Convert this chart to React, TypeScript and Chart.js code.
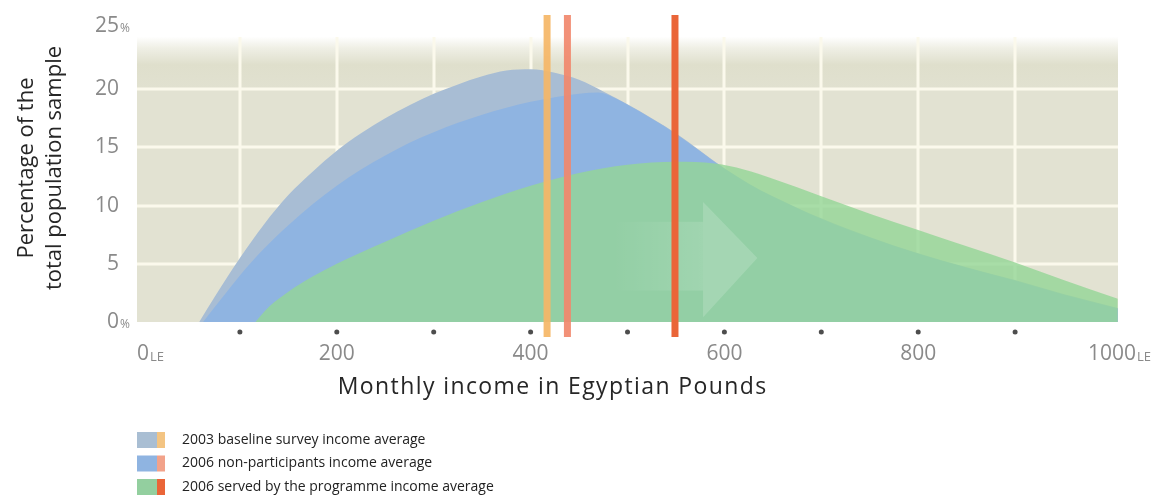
import React, { useEffect, useRef } from 'react';
import { Chart, registerables } from 'chart.js';

Chart.register(...registerables);

// ---- data ----
const seriesLabels = [
  '2003 baseline survey income average',
  '2006 non-participants income average',
  '2006 served by the programme income average',
];

const income2003 = [58, 75, 100, 125, 150, 175, 200, 225, 250, 275, 300, 325, 350, 375, 400, 425, 450, 475, 500, 525, 550, 575, 600, 625, 650, 700, 750, 800, 850, 900, 950, 1006];
const share2003 = [0, 2.3, 5.5, 8.4, 10.9, 12.9, 14.7, 16.2, 17.5, 18.6, 19.6, 20.4, 21.1, 21.6, 21.7, 21.4, 20.8, 19.8, 18.7, 17.5, 16.2, 14.7, 13.2, 11.9, 10.8, 8.9, 7.3, 5.9, 4.7, 3.6, 2.4, 1.2];

const income2006 = [62, 80, 100, 125, 150, 175, 200, 225, 250, 275, 300, 325, 350, 375, 400, 425, 450, 470, 490, 500, 525, 550, 575, 600, 625, 650, 700, 750, 800, 850, 900, 950, 1006];
const share2006 = [0, 1.9, 4.0, 6.3, 8.3, 10.1, 11.7, 13.1, 14.3, 15.4, 16.3, 17.1, 17.8, 18.4, 18.9, 19.3, 19.6, 19.7, 19.1, 18.65, 17.45, 16.15, 14.65, 13.15, 11.85, 10.75, 8.85, 7.25, 5.85, 4.65, 3.55, 2.35, 1.15];

const incomeServed = [116, 130, 150, 175, 200, 250, 300, 350, 400, 450, 500, 550, 590, 620, 650, 700, 750, 800, 850, 900, 950, 1006];
const shareServed = [0, 1.3, 2.6, 3.9, 5.0, 6.9, 8.7, 10.3, 11.7, 12.8, 13.5, 13.75, 13.6, 13.1, 12.3, 10.8, 9.3, 7.9, 6.5, 5.1, 3.6, 2.0];

const averageIncome = [417, 438, 549];

const yTickValues = [0, 5, 10, 15, 20, 25];
const yTickLabels = ['0', '5', '10', '15', '20', '25'];
const yTickSuffix = ['%', '', '', '', '', '%'];

const xTickValues = [0, 200, 400, 600, 800, 1000];
const xTickLabels = ['0', '200', '400', '600', '800', '1000'];
const xTickSuffix = ['LE', '', '', '', '', 'LE'];
const xDotValues = [100, 200, 300, 400, 500, 600, 700, 800, 900];
const gridX = [100, 200, 300, 400, 500, 600, 700, 800, 900];
const gridY = [5, 10, 15, 20];

const xTitle = 'Monthly income in Egyptian Pounds';
const yTitle = ['Percentage of the', 'total population sample'];

// ---- styles ----
const areaColors = ['#a8bdd4', '#8fb4e1', 'rgba(148,214,150,0.8)'];
const lineColors = ['rgba(245,182,102,0.92)', 'rgba(241,136,108,0.92)', '#ea6538'];
const legendAreaColors = ['#a9bed3', '#8fb4e1', '#93cf9f'];
const legendLineColors = ['#f3c482', '#f2a28a', '#ea6538'];

const FONT = '"Open Sans", "DejaVu Sans", sans-serif';

const toPoints = (xs: number[], ys: number[]) => xs.map((x, i) => ({ x, y: ys[i] }));

const decorPlugin = {
  id: 'decor',
  beforeDatasetsDraw(chart: any) {
    const { ctx, chartArea, scales } = chart;
    const { left, right, top, bottom } = chartArea;
    const x = scales.x;
    const y = scales.y;
    ctx.save();
    const y20 = y.getPixelForValue(20);
    ctx.fillStyle = '#e2e2d2';
    ctx.fillRect(left, y20, right - left, bottom - y20);
    const g = ctx.createLinearGradient(0, top, 0, y20);
    g.addColorStop(0, 'rgba(255,255,255,1)');
    g.addColorStop(0.18, 'rgba(255,255,255,1)');
    g.addColorStop(0.36, '#efefe5');
    g.addColorStop(0.62, '#dfdfcc');
    g.addColorStop(1, '#e1e1d0');
    ctx.fillStyle = g;
    ctx.fillRect(left, top, right - left, y20 - top);
    ctx.strokeStyle = '#fbf9ec';
    ctx.lineWidth = 3;
    gridY.forEach((v) => {
      const py = Math.round(y.getPixelForValue(v));
      ctx.beginPath();
      ctx.moveTo(left, py);
      ctx.lineTo(right, py);
      ctx.stroke();
    });
    gridX.forEach((v) => {
      const px = Math.round(x.getPixelForValue(v));
      ctx.beginPath();
      ctx.moveTo(px, top + 12);
      ctx.lineTo(px, bottom);
      ctx.stroke();
    });
    ctx.restore();
  },
  afterDatasetsDraw(chart: any) {
    const { ctx, chartArea, scales } = chart;
    const x = scales.x;
    const y = scales.y;
    ctx.save();
    const ax0 = x.getPixelForValue(485);
    const ax1 = x.getPixelForValue(578);
    const ax2 = x.getPixelForValue(634);
    const bTop = y.getPixelForValue(8.6);
    const bBot = y.getPixelForValue(2.7);
    const hTop = y.getPixelForValue(10.3);
    const hBot = y.getPixelForValue(0.4);
    const tipY = y.getPixelForValue(5.5);
    const ag = ctx.createLinearGradient(ax0, 0, ax1, 0);
    ag.addColorStop(0, 'rgba(255,255,255,0)');
    ag.addColorStop(1, 'rgba(255,255,255,0.12)');
    ctx.fillStyle = ag;
    ctx.fillRect(ax0, bTop, ax1 - ax0, bBot - bTop);
    ctx.fillStyle = 'rgba(255,255,255,0.16)';
    ctx.beginPath();
    ctx.moveTo(ax1, hTop);
    ctx.lineTo(ax2, tipY);
    ctx.lineTo(ax1, hBot);
    ctx.closePath();
    ctx.fill();
    averageIncome.forEach((v, i) => {
      const px = x.getPixelForValue(v);
      ctx.fillStyle = lineColors[i];
      ctx.fillRect(px - 3.5, chartArea.top - 10, 7, chartArea.bottom - chartArea.top + 25);
    });
    ctx.restore();
  },
  afterDraw(chart: any) {
    const { ctx, chartArea, scales } = chart;
    const x = scales.x;
    const y = scales.y;
    ctx.save();
    ctx.fillStyle = '#8a8a8a';
    ctx.textBaseline = 'middle';
    yTickValues.forEach((v, i) => {
      const py = y.getPixelForValue(v) - (i === yTickValues.length - 1 ? 5 : 0);
      const rx = chartArea.left - 18;
      ctx.font = `21px ${FONT}`;
      ctx.textAlign = 'right';
      ctx.fillText(yTickLabels[i], rx, py);
      if (yTickSuffix[i]) {
        ctx.font = `12px ${FONT}`;
        ctx.textAlign = 'left';
        ctx.fillText(yTickSuffix[i], rx + 1, py + 3);
      }
    });
    ctx.fillStyle = '#4d4d4d';
    xDotValues.forEach((v) => {
      const px = x.getPixelForValue(v);
      ctx.beginPath();
      ctx.arc(px, chartArea.bottom + 10, 2.5, 0, Math.PI * 2);
      ctx.fill();
    });
    ctx.fillStyle = '#8a8a8a';
    xTickValues.forEach((v, i) => {
      const px = x.getPixelForValue(v);
      ctx.font = `21px ${FONT}`;
      ctx.textAlign = 'center';
      const w = ctx.measureText(xTickLabels[i]).width;
      ctx.fillText(xTickLabels[i], px, chartArea.bottom + 32);
      if (xTickSuffix[i]) {
        ctx.font = `13px ${FONT}`;
        ctx.textAlign = 'left';
        ctx.fillText(xTickSuffix[i], px + w / 2 + 1, chartArea.bottom + 35);
      }
    });
    // x title
    ctx.fillStyle = '#262626';
    ctx.font = `23px ${FONT}`;
    ctx.textAlign = 'left';
    (ctx as any).letterSpacing = '1.4px';
    ctx.fillText(xTitle, x.getPixelForValue(201), chartArea.bottom + 65);
    (ctx as any).letterSpacing = '0px';
    // y title
    ctx.save();
    ctx.textAlign = 'center';
    ctx.translate(41, 168);
    ctx.rotate(-Math.PI / 2);
    ctx.font = `22px ${FONT}`;
    ctx.fillText(yTitle[0], 0, -14);
    ctx.fillText(yTitle[1], 0, 14);
    ctx.restore();
    // legend
    seriesLabels.forEach((label, i) => {
      const cy = chartArea.bottom + 118 + i * 23.5;
      ctx.fillStyle = legendAreaColors[i];
      ctx.fillRect(chartArea.left, cy - 8, 20, 16);
      ctx.fillStyle = legendLineColors[i];
      ctx.fillRect(chartArea.left + 20, cy - 8, 8, 16);
      ctx.fillStyle = '#222222';
      ctx.font = `14px ${FONT}`;
      ctx.textAlign = 'left';
      ctx.fillText(label, chartArea.left + 45, cy);
    });
    ctx.restore();
  },
};

export default function App() {
  const canvasRef = useRef<HTMLCanvasElement | null>(null);

  useEffect(() => {
    document.body.style.margin = '0';
    const canvas = canvasRef.current;
    if (!canvas) return;
    const common = { borderWidth: 0, pointRadius: 0, fill: 'origin', cubicInterpolationMode: 'monotone' };
    const chart = new Chart(canvas, {
      type: 'line',
      data: {
        datasets: [
          { label: seriesLabels[2], data: toPoints(incomeServed, shareServed), backgroundColor: areaColors[2], ...common },
          { label: seriesLabels[1], data: toPoints(income2006, share2006), backgroundColor: areaColors[1], ...common },
          { label: seriesLabels[0], data: toPoints(income2003, share2003), backgroundColor: areaColors[0], ...common },
        ],
      },
      options: {
        responsive: false,
        animation: false,
        devicePixelRatio: 1,
        layout: { padding: { left: 137, right: 45, top: 25, bottom: 179 } },
        plugins: { legend: { display: false }, tooltip: { enabled: false } },
        scales: {
          x: { type: 'linear', min: -6.2, max: 1006.2, display: false },
          y: { type: 'linear', min: 0, max: 25.5, display: false },
        },
      },
      plugins: [decorPlugin],
    } as any);
    return () => chart.destroy();
  }, []);

  return (
    <div style={{ width: 1163, height: 501, background: '#ffffff' }}>
      <canvas ref={canvasRef} width={1163} height={501} style={{ display: 'block' }} />
    </div>
  );
}
